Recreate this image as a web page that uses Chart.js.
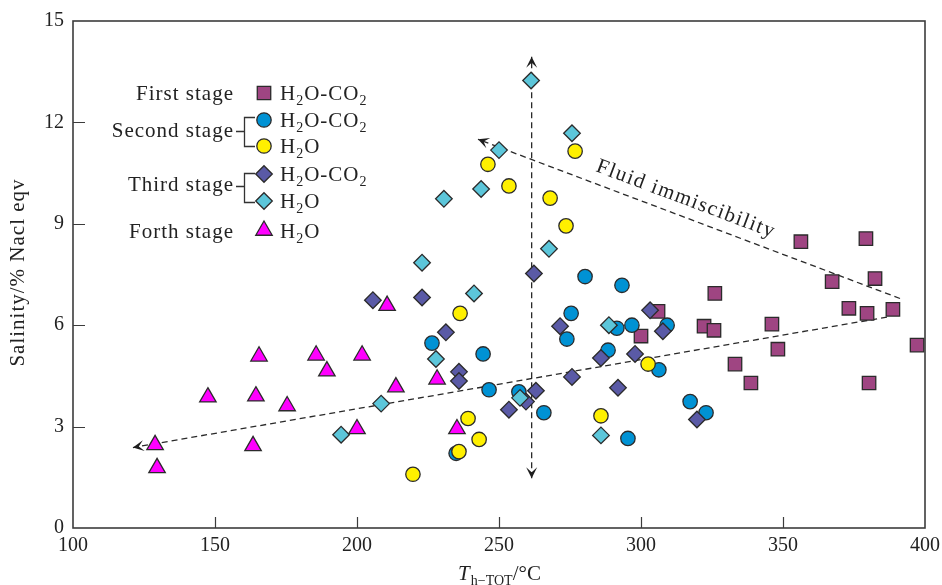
<!DOCTYPE html>
<html>
<head>
<meta charset="utf-8">
<script src="https://cdn.jsdelivr.net/npm/chart.js@4.4.1/dist/chart.umd.min.js"></script>
<style>
  html, body { margin: 0; padding: 0; background: #fff; }
  #wrap { width: 942px; height: 585px; }
</style>
</head>
<body>
<div id="wrap"><canvas id="chart" width="942" height="585"></canvas></div>
<script>
// Th-TOT (°C) and salinity (% NaCl eqv)
const stage1Temp = [356.3, 379.2, 382.4, 367.3, 373.2, 379.6, 388.7, 326.0, 306.0, 300.0, 322.2, 325.7, 346.1, 348.2, 333.1, 338.7, 380.3, 397.2];
const stage1Sal  = [8.47, 8.56, 7.38, 7.29, 6.50, 6.35, 6.47, 6.94, 6.41, 5.68, 5.97, 5.85, 6.03, 5.29, 4.85, 4.29, 4.29, 5.41];

const stage2CO2Temp = [280.3, 293.3, 275.4, 273.9, 226.4, 244.4, 291.5, 296.8, 309.2, 288.4, 306.3, 246.5, 257.0, 265.8, 234.9, 295.4, 317.3, 322.9];
const stage2CO2Sal  = [7.44, 7.18, 6.35, 5.59, 5.47, 5.15, 5.91, 6.00, 6.00, 5.26, 4.68, 4.09, 4.03, 3.41, 2.21, 2.65, 3.74, 3.41];

const stage2H2OTemp = [246.1, 276.8, 253.5, 268.0, 273.6, 236.3, 302.5, 239.1, 243.0, 235.9, 219.7, 285.9];
const stage2H2OSal  = [10.76, 11.15, 10.12, 9.76, 8.94, 6.35, 4.85, 3.24, 2.62, 2.26, 1.59, 3.32];

const stage3CO2Temp = [205.6, 222.9, 231.3, 235.9, 235.9, 262.3, 271.5, 275.7, 285.9, 291.9, 297.9, 303.2, 307.7, 319.7, 263.0, 253.5, 259.5];
const stage3CO2Sal  = [6.74, 6.82, 5.79, 4.62, 4.35, 7.53, 5.97, 4.47, 5.03, 4.15, 5.15, 6.44, 5.82, 3.21, 4.06, 3.50, 3.74];

const stage3H2OTemp = [261.3, 275.7, 250.0, 243.7, 230.6, 267.6, 222.9, 241.2, 288.7, 227.8, 257.4, 285.9, 208.5, 194.4];
const stage3H2OSal  = [13.24, 11.68, 11.18, 10.03, 9.74, 8.26, 7.85, 6.94, 6.00, 5.00, 3.85, 2.74, 3.68, 2.76];

const stage4Temp = [128.9, 129.6, 147.5, 164.4, 163.4, 165.5, 175.4, 185.6, 189.4, 201.8, 200.0, 210.6, 213.7, 228.2, 235.2];
const stage4Sal  = [2.46, 1.78, 3.87, 3.90, 2.43, 5.08, 3.61, 5.11, 4.64, 5.11, 2.93, 6.58, 4.17, 4.40, 2.93];

// dashed guide lines: [start, arrow tip]
const verticalGuideT = [261.5, 261.5];
const verticalGuideS = [1.47, 13.94];
const immiscUpperT = [391.2, 242.6];
const immiscUpperS = [6.79, 11.5];
const immiscLowerT = [386.6, 121.1];
const immiscLowerS = [6.24, 2.38];

const xTicks = [100, 150, 200, 250, 300, 350, 400];
const yTicks = [0, 3, 6, 9, 12, 15];

const pts = (xs, ys) => xs.map((x, i) => ({ x, y: ys[i] }));

const FONT = 'Liberation Serif';
const INK = '#222';
const EDGE = '#2b2b2b';

const series = [
  { label: 'First stage H2O-CO2', data: pts(stage1Temp, stage1Sal), style: 'rect', radius: 9.5, color: '#9f4582', order: 6 },
  { label: 'Second stage H2O-CO2', data: pts(stage2CO2Temp, stage2CO2Sal), style: 'circle', radius: 7.2, color: '#0092d4', order: 5 },
  { label: 'Second stage H2O', data: pts(stage2H2OTemp, stage2H2OSal), style: 'circle', radius: 7.2, color: '#fff000', order: 4 },
  { label: 'Third stage H2O-CO2', data: pts(stage3CO2Temp, stage3CO2Sal), style: 'rectRot', radius: 8.3, color: '#5a5aa6', order: 3 },
  { label: 'Third stage H2O', data: pts(stage3H2OTemp, stage3H2OSal), style: 'rectRot', radius: 8.3, color: '#5cc6da', order: 2 },
  { label: 'Forth stage H2O', data: pts(stage4Temp, stage4Sal), style: 'triangle', radius: 9.5, color: '#ff00ff', order: 1 }
];

const guides = [
  pts(verticalGuideT, verticalGuideS),
  pts(immiscUpperT, immiscUpperS),
  pts(immiscLowerT, immiscLowerS)
];

const datasets = series.map(s => ({
  label: s.label,
  data: s.data,
  pointStyle: s.style,
  pointRadius: s.radius,
  pointHoverRadius: s.radius,
  backgroundColor: s.color,
  borderColor: EDGE,
  borderWidth: 1.3,
  order: s.order
})).concat(guides.map((g, i) => ({
  type: 'line',
  label: 'guide' + i,
  data: g,
  showLine: true,
  borderColor: '#2a2a2a',
  borderWidth: 1.3,
  borderDash: [6, 4],
  pointRadius: 0,
  fill: false,
  order: 10
})));

// text with subscripts, parts = [[text, isSub], ...]
function chemText(ctx, x, y, parts) {
  let cx = x;
  parts.forEach(([t, sub]) => {
    ctx.font = (sub ? '14px ' : '21px ') + FONT;
    ctx.fillText(t, cx, sub ? y + 5 : y);
    cx += ctx.measureText(t).width;
  });
}

function arrowHead(ctx, from, to) {
  const ang = Math.atan2(to.y - from.y, to.x - from.x);
  ctx.save();
  ctx.translate(to.x, to.y);
  ctx.rotate(ang);
  ctx.beginPath();
  ctx.moveTo(0, 0);
  ctx.lineTo(-11, -5.5);
  ctx.lineTo(-6, 0);
  ctx.lineTo(-11, 5.5);
  ctx.closePath();
  ctx.fillStyle = '#1e1e1e';
  ctx.fill();
  ctx.restore();
}

function marker(ctx, style, radius, color, x, y) {
  ctx.fillStyle = color;
  ctx.strokeStyle = EDGE;
  ctx.lineWidth = 1.3;
  Chart.helpers.drawPoint(ctx, { pointStyle: style, radius, rotation: 0, borderWidth: 1.3 }, x, y);
}

const decorations = {
  id: 'decorations',
  afterDraw(chart) {
    const { ctx, chartArea: a, scales: { x, y } } = chart;
    ctx.save();

    // frame and inward ticks
    ctx.strokeStyle = '#3c3c3c';
    ctx.lineWidth = 1.6;
    ctx.strokeRect(a.left, a.top, a.right - a.left, a.bottom - a.top);
    ctx.beginPath();
    xTicks.slice(1, -1).forEach(v => {
      const px = Math.round(x.getPixelForValue(v)) + 0.5;
      ctx.moveTo(px, a.bottom); ctx.lineTo(px, a.bottom - 11);
    });
    yTicks.slice(1, -1).forEach(v => {
      const py = Math.round(y.getPixelForValue(v)) + 0.5;
      ctx.moveTo(a.left, py); ctx.lineTo(a.left + 12, py);
    });
    ctx.lineWidth = 1.2;
    ctx.stroke();

    // x tick labels (drawn here so the last one can overhang the edge)
    ctx.fillStyle = INK;
    ctx.font = '20px ' + FONT;
    ctx.textAlign = 'center';
    ctx.textBaseline = 'middle';
    xTicks.forEach(v => ctx.fillText(String(v), x.getPixelForValue(v), a.bottom + 18));

    // arrow heads at the end of each guide
    guides.forEach(g => {
      const p0 = { x: x.getPixelForValue(g[0].x), y: y.getPixelForValue(g[0].y) };
      const p1 = { x: x.getPixelForValue(g[1].x), y: y.getPixelForValue(g[1].y) };
      arrowHead(ctx, p0, p1);
    });
    // the vertical one points both ways
    const v = guides[0];
    arrowHead(ctx,
      { x: x.getPixelForValue(v[1].x), y: y.getPixelForValue(v[1].y) },
      { x: x.getPixelForValue(v[0].x), y: y.getPixelForValue(v[0].y) });

    // Fluid immiscibility label
    ctx.save();
    ctx.translate(x.getPixelForValue(283.8), y.getPixelForValue(10.56));
    ctx.rotate(20.6 * Math.PI / 180);
    ctx.font = '21px ' + FONT;
    ctx.letterSpacing = '1.5px';
    ctx.fillStyle = INK;
    ctx.textAlign = 'left';
    ctx.textBaseline = 'alphabetic';
    ctx.fillText('Fluid immiscibility', 0, 0);
    ctx.restore();

    // legend
    ctx.fillStyle = INK;
    ctx.textBaseline = 'alphabetic';
    ctx.letterSpacing = '1px';
    ctx.font = '21px ' + FONT;
    ctx.textAlign = 'right';
    ctx.fillText('First stage', 234, 100);
    ctx.fillText('Second stage', 234, 137);
    ctx.fillText('Third stage', 234, 191);
    ctx.fillText('Forth stage', 234, 238);

    ctx.strokeStyle = '#333';
    ctx.lineWidth = 1.3;
    ctx.beginPath();
    [[117, 131, 146], [173, 186, 202]].forEach(([t, m, b]) => {
      ctx.moveTo(236, m + 0.5); ctx.lineTo(244.5, m + 0.5);
      ctx.moveTo(255, t + 0.5); ctx.lineTo(244.5, t + 0.5);
      ctx.lineTo(244.5, b + 0.5); ctx.lineTo(255, b + 0.5);
    });
    ctx.stroke();

    const rows = [
      [series[0], 93, 100, true],
      [series[1], 120, 127, true],
      [series[2], 146, 153, false],
      [series[3], 174, 181, true],
      [series[4], 201, 208, false],
      [series[5], 230.5, 238, false]
    ];
    rows.forEach(([s, my, ty, co2]) => {
      marker(ctx, s.style, s.radius, s.color, 264, my);
      ctx.fillStyle = INK;
      ctx.textAlign = 'left';
      chemText(ctx, 280, ty, co2 ? [['H', 0], ['2', 1], ['O-CO', 0], ['2', 1]] : [['H', 0], ['2', 1], ['O', 0]]);
    });
    ctx.letterSpacing = '0px';

    // axis titles
    ctx.save();
    ctx.translate(24, (a.top + a.bottom) / 2 - 2);
    ctx.rotate(-Math.PI / 2);
    ctx.font = '21px ' + FONT;
    ctx.letterSpacing = '1px';
    ctx.textAlign = 'center';
    ctx.textBaseline = 'alphabetic';
    ctx.fillStyle = INK;
    ctx.fillText('Salinity/% Nacl eqv', 0, 0);
    ctx.restore();

    const parts = [['T', 'italic 21px '], ['h\u2212TOT', '14px '], ['/\u00b0C', '21px ']];
    let w = 0;
    parts.forEach(([t, f]) => { ctx.font = f + FONT; w += ctx.measureText(t).width; });
    let cx = (a.left + a.right) / 2 - w / 2;
    ctx.textAlign = 'left';
    ctx.textBaseline = 'alphabetic';
    parts.forEach(([t, f]) => {
      ctx.font = f + FONT;
      ctx.fillText(t, cx, f.startsWith('14') ? 585 : 580);
      cx += ctx.measureText(t).width + (f.startsWith('italic') ? 1 : 0);
    });

    ctx.restore();
  }
};

new Chart(document.getElementById('chart'), {
  type: 'scatter',
  data: { datasets },
  options: {
    responsive: false,
    animation: false,
    layout: { padding: { left: 0, right: 17, top: 19, bottom: 0 } },
    plugins: { legend: { display: false }, tooltip: { enabled: false } },
    scales: {
      x: {
        type: 'linear',
        min: 100, max: 400,
        afterBuildTicks: s => { s.ticks = xTicks.map(v => ({ value: v })); },
        afterFit: s => { s.height = 57; },
        grid: { display: false, drawTicks: false },
        border: { display: false },
        ticks: { display: false }
      },
      y: {
        type: 'linear',
        min: 0, max: 15,
        afterBuildTicks: s => { s.ticks = yTicks.map(v => ({ value: v })); },
        afterFit: s => { s.width = 73; },
        grid: { display: false, drawTicks: false },
        border: { display: false },
        ticks: { padding: 9, color: INK, font: { family: FONT, size: 20 } }
      }
    }
  },
  plugins: [decorations]
});
</script>
</body>
</html>
